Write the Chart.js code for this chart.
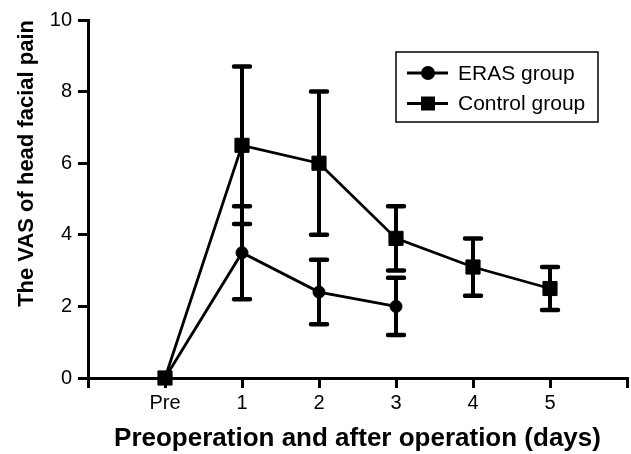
<!DOCTYPE html>
<html><head><meta charset="utf-8">
<script src="https://cdn.jsdelivr.net/npm/chart.js@4.4.1/dist/chart.umd.min.js"></script>
<style>html,body{margin:0;padding:0;background:#fff;}#wrap{width:631px;height:454px;}</style>
</head><body><div id="wrap"><canvas id="c" width="631" height="454"></canvas></div>
<script>
const categories = ['', 'Pre', '1', '2', '3', '4', '5', ''];
const erasMean = [null, 0, 3.5, 2.4, 2.0, null, null, null];
const erasSD = [null, 0, 1.3, 0.9, 0.8, null, null, null];
const controlMean = [null, 0, 6.5, 6.0, 3.9, 3.1, 2.5, null];
const controlSD = [null, 0, 2.2, 2.0, 0.9, 0.8, 0.6, null];
const yTicks = [0, 2, 4, 6, 8, 10];
const seriesNames = ['ERAS group', 'Control group'];
const xTitle = 'Preoperation and after operation (days)';
const yTitle = 'The VAS of head facial pain';

const FAM = '"Liberation Sans", Arial, Helvetica, sans-serif';

const errorBars = {
  id: 'errorBars',
  beforeDatasetsDraw(chart) {
    const ctx = chart.ctx;
    const ys = chart.scales.y;
    chart.data.datasets.forEach((ds, di) => {
      const meta = chart.getDatasetMeta(di);
      ds.data.forEach((v, i) => {
        const sd = ds.sd[i];
        if (v == null || !sd) return;
        const x = meta.data[i].x;
        const yt = ys.getPixelForValue(v + sd);
        const yb = ys.getPixelForValue(v - sd);
        ctx.save();
        ctx.strokeStyle = '#000';
        ctx.lineWidth = 4;
        ctx.lineCap = 'butt';
        ctx.beginPath(); ctx.moveTo(x, yt); ctx.lineTo(x, yb); ctx.stroke();
        ctx.lineWidth = 4.5;
        ctx.lineCap = 'round';
        ctx.beginPath();
        ctx.moveTo(x - 8, yt); ctx.lineTo(x + 8, yt);
        ctx.moveTo(x - 8, yb); ctx.lineTo(x + 8, yb);
        ctx.stroke();
        ctx.restore();
      });
    });
  }
};

const boxLegend = {
  id: 'boxLegend',
  afterDraw(chart) {
    const ctx = chart.ctx;
    ctx.save();
    ctx.strokeStyle = '#000';
    ctx.lineWidth = 1.5;
    ctx.strokeRect(396, 52, 202, 70);
    chart.data.datasets.forEach((ds, i) => {
      const y = 73 + i * 30.5;
      ctx.lineWidth = 3;
      ctx.beginPath(); ctx.moveTo(407, y); ctx.lineTo(448, y); ctx.stroke();
      ctx.fillStyle = '#000';
      if (ds.pointStyle === 'circle') {
        ctx.beginPath(); ctx.arc(428, y, 7, 0, Math.PI * 2); ctx.fill();
      } else {
        ctx.fillRect(421, y - 7, 14, 14);
      }
      ctx.font = '21px ' + FAM;
      ctx.textBaseline = 'middle';
      ctx.textAlign = 'left';
      ctx.fillText(ds.label, 458, y + 1);
    });
    ctx.restore();
  }
};

new Chart(document.getElementById('c'), {
  type: 'line',
  data: {
    labels: categories,
    datasets: [
      { label: seriesNames[0], data: erasMean, sd: erasSD, borderColor: '#000', backgroundColor: '#000', clip: false,
        borderWidth: 2.8, pointStyle: 'circle', pointRadius: 6, pointBorderWidth: 1, tension: 0 },
      { label: seriesNames[1], data: controlMean, sd: controlSD, borderColor: '#000', backgroundColor: '#000', clip: false,
        borderWidth: 2.8, pointStyle: 'rect', pointRadius: 10, pointBorderWidth: 1, tension: 0 }
    ]
  },
  options: {
    responsive: false,
    animation: false,
    devicePixelRatio: 1,
    layout: { autoPadding: false, padding: { top: 20, right: 4, bottom: 0, left: 0 } },
    plugins: { legend: { display: false }, tooltip: { enabled: false } },
    scales: {
      x: {
        type: 'category',
        offset: false,
        grid: { display: true, drawOnChartArea: false, drawTicks: true, tickLength: 10, lineWidth: 3, color: '#000' },
        border: { display: true, width: 3, color: '#000' },
        ticks: { font: { size: 20, family: FAM }, color: '#000', padding: 3, autoSkip: false, maxRotation: 0 },
        title: { display: true, text: xTitle, color: '#000', font: { size: 26, weight: 'bold', family: FAM }, padding: { top: 0, bottom: 0 } },
        afterFit(s) { s.height = 76; s.paddingLeft = 0; s.paddingRight = 0; }
      },
      y: {
        min: 0, max: 10,
        afterBuildTicks(s) { s.ticks = yTicks.map(v => ({ value: v })); },
        grid: { display: true, drawOnChartArea: false, drawTicks: true, tickLength: 10, lineWidth: 3, color: '#000' },
        border: { display: true, width: 3, color: '#000' },
        ticks: { font: { size: 20, family: FAM }, color: '#000', padding: 6 },
        title: { display: true, text: yTitle, align: 'end', color: '#000', font: { size: 22, weight: 'bold', family: FAM }, padding: { top: 14, bottom: 0 } },
        afterFit(s) { s.width = 88; s.paddingTop = 0; s.paddingBottom = 0; }
      }
    }
  },
  plugins: [errorBars, boxLegend]
});
</script></body></html>
